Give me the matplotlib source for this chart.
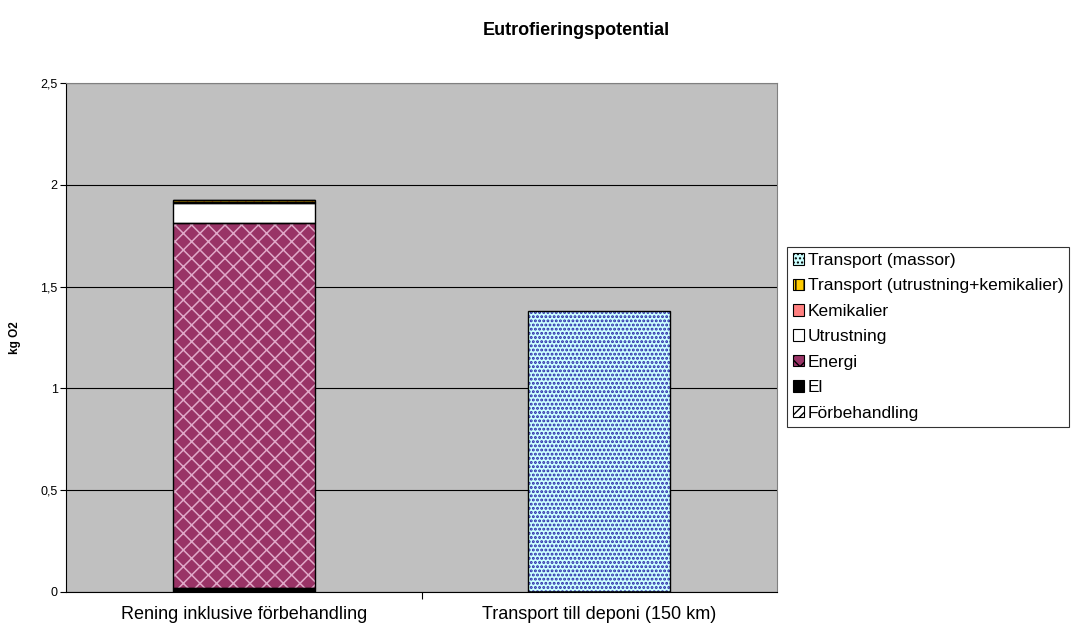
import matplotlib.pyplot as plt
import numpy as np
from matplotlib.patches import Patch

# Data: kg O2 per kategori
kategorier = ['Rening inklusive förbehandling', 'Transport till deponi (150 km)']
serier = ['Förbehandling', 'El', 'Energi', 'Utrustning', 'Kemikalier',
          'Transport (utrustning+kemikalier)', 'Transport (massor)']
forbehandling = [0.0, 0.0]
el = [0.02, 0.0]
energi = [1.79, 0.0]
utrustning = [0.10, 0.0]
kemikalier = [0.005, 0.0]
transport_utr = [0.01, 0.0]
transport_massor = [0.0, 1.38]
yticks = [0, 0.5, 1, 1.5, 2, 2.5]
ytick_labels = ['0', '0,5', '1', '1,5', '2', '2,5']

# Stil per serie: (fyllnad, mönster, mönsterfärg, mönsterbredd)
stilar = {
    'Förbehandling': ('white', '////', 'black', 1.0),
    'El': ('black', None, 'black', 1.0),
    'Energi': ('#993366', 'xx', '#e0a8c8', 1.1),
    'Utrustning': ('white', None, 'black', 1.0),
    'Kemikalier': ('#ff8080', None, 'black', 1.0),
    'Transport (utrustning+kemikalier)': ('#ffcc00', '||', '#ff6600', 1.0),
    'Transport (massor)': ('#ccffff', '....', '#2828a8', 1.4),
}

varden = [forbehandling, el, energi, utrustning, kemikalier, transport_utr, transport_massor]

plt.rcParams['font.family'] = ['Liberation Sans', 'DejaVu Sans']
fig = plt.figure(figsize=(10.79, 6.35), dpi=100)
ax = fig.add_axes([66 / 1079, 1 - 592 / 635, (777 - 66) / 1079, (592 - 83) / 635])
ax.set_facecolor('#c0c0c0')

x = np.arange(len(kategorier))
bredd = 0.4
botten = np.zeros(len(kategorier))
for namn, v in zip(serier, varden):
    v = np.array(v)
    fyll, monster, mfarg, mlw = stilar[namn]
    with plt.rc_context({'hatch.linewidth': mlw}):
        ax.bar(x, v, bredd, bottom=botten, color=fyll, hatch=monster,
               edgecolor=mfarg, linewidth=0, zorder=3)
    ax.bar(x, v, bredd, bottom=botten, fill=False, edgecolor='black',
           linewidth=1.0, zorder=4)
    botten += v

ax.set_xlim(-0.5, 1.5)
ax.set_ylim(0, 2.5)
ax.set_yticks(yticks)
ax.set_yticklabels(ytick_labels, fontsize=9)
ax.yaxis.grid(True, color='black', linewidth=0.8, zorder=1)
ax.set_axisbelow(True)
ax.set_xticks([0.5])
ax.set_xticklabels([''])
ax.tick_params(axis='x', length=5, direction='out')
ax.tick_params(axis='y', length=4, direction='out', pad=2)
for i, k in enumerate(kategorier):
    ax.text(i, -0.07, k, ha='center', va='top', fontsize=13,
            transform=ax.transData)
for s in ['top', 'right']:
    ax.spines[s].set_color('#808080')
ax.spines['left'].set_color('black')
ax.spines['bottom'].set_color('black')
ax.set_ylabel('kg O2', fontsize=8.5, fontweight='bold', labelpad=14)

fig.suptitle('Eutrofieringspotential', fontsize=13, fontweight='bold', x=0.534, y=0.965)

# Förklaring i omvänd ordning
handtag = []
for namn in reversed(serier):
    fyll, monster, mfarg, mlw = stilar[namn]
    handtag.append(Patch(facecolor=fyll, hatch=monster, edgecolor='black',
                         linewidth=0.8, label=namn))
leg = fig.legend(handles=handtag, loc='upper left', bbox_to_anchor=(787 / 1079, 1 - 247 / 635),
                 fontsize=12.5, frameon=True, fancybox=False, edgecolor='black',
                 handlelength=0.65, handleheight=0.65, handletextpad=0.2,
                 labelspacing=0.6, borderpad=0.35, borderaxespad=0)
leg.get_frame().set_linewidth(0.8)

fig.savefig('out.png', dpi=100)
